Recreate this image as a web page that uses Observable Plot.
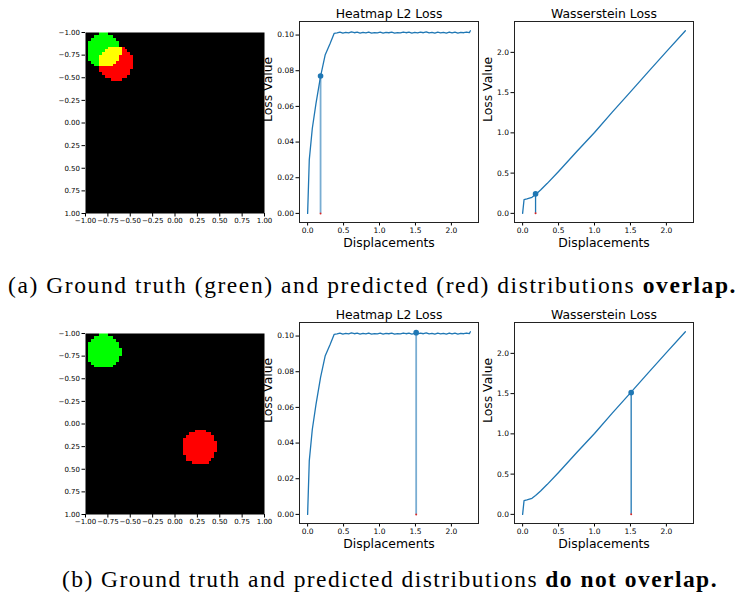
<!DOCTYPE html>
<html><head><meta charset="utf-8">
<script src="https://cdn.jsdelivr.net/npm/d3@7"></script>
<script src="https://cdn.jsdelivr.net/npm/@observablehq/plot@0.6"></script>
<style>
html,body{margin:0;padding:0;background:#fff;}
#fig{position:relative;width:743px;height:597px;overflow:hidden;background:#fff;}
#fig svg{position:absolute;overflow:visible;}
</style></head><body><div id="fig"></div>
<script>
// ---------- data ----------
const gridSize = 64;
const circleRadius = 0.19;
const gtCenter = [-0.79, -0.80];
const predCenters = [[-0.66, -0.665], [0.275, 0.26]];

const l2Disp = [0, 0.023, 0.065, 0.116, 0.18, 0.245, 0.31, 0.37,
  0.41, 0.45, 0.49, 0.53, 0.57, 0.61, 0.65, 0.69, 0.73, 0.77,
  0.81, 0.85, 0.89, 0.93, 0.97, 1.01, 1.05, 1.09, 1.13, 1.17,
  1.21, 1.25, 1.29, 1.33, 1.37, 1.41, 1.45, 1.49, 1.53, 1.57,
  1.61, 1.65, 1.69, 1.73, 1.77, 1.81, 1.85, 1.89, 1.93, 1.97,
  2.01, 2.05, 2.09, 2.13, 2.17, 2.21, 2.25, 2.264];
const l2Loss = [0, 0.030, 0.0476, 0.0616, 0.0768, 0.089, 0.095, 0.1010,
  0.1012, 0.1016, 0.1011, 0.1015, 0.1012, 0.1018, 0.1013, 0.1016, 0.1011, 0.1015,
  0.1012, 0.1017, 0.1011, 0.1014, 0.1012, 0.1016, 0.1011, 0.1015, 0.1013, 0.1016,
  0.1011, 0.1014, 0.1012, 0.1017, 0.1013, 0.1016, 0.1011, 0.1015, 0.1012, 0.1016,
  0.1013, 0.1018, 0.1012, 0.1015, 0.1011, 0.1016, 0.1012, 0.1015, 0.1011, 0.1017,
  0.1012, 0.1016, 0.1011, 0.1015, 0.1013, 0.1017, 0.1014, 0.1024];

const wDisp = [0, 0.02, 0.06, 0.13, 0.18, 0.25, 0.34, 0.5, 0.75, 1.0, 1.25, 1.5, 1.75, 2.0, 2.264];
const wLoss = [0, 0.172, 0.18, 0.20, 0.235, 0.29, 0.37, 0.52, 0.765, 1.005, 1.26, 1.51, 1.76, 2.01, 2.268];

const markedDisp = [0.18, 1.51];
const markedL2 = [0.0770, 0.1019];
const markedW = [0.242, 1.512];

const heatTicks = [-1, -0.75, -0.5, -0.25, 0, 0.25, 0.5, 0.75, 1];
const l2Ticks = [0, 0.02, 0.04, 0.06, 0.08, 0.10];
const dispTicks = [0, 0.5, 1, 1.5, 2];
const wTicks = [0, 0.5, 1, 1.5, 2];
const titles = ["Heatmap L2 Loss", "Wasserstein Loss"];
const xLabel = "Displacements";
const yLabel = "Loss Value";
const captionParts = [
  ["(a) Ground truth (green) and predicted (red) distributions ", "overlap."],
  ["(b) Ground truth and predicted distributions ", "do not overlap."]
];

// ---------- layout ----------
const fig = document.getElementById("fig");
const blue = "#1f77b4";
const rowOffset = [0, 300.5];

function place(svg, left, top) {
  svg.style.left = left + "px";
  svg.style.top = top + "px";
  fig.appendChild(svg);
}

function heatmap(pred, top) {
  const r2 = circleRadius * circleRadius;
  const inside = (x, y, c) => (x - c[0]) ** 2 + (y - c[1]) ** 2 <= r2;
  const svg = Plot.plot({
    width: 229, height: 208,
    marginLeft: 45, marginRight: 5, marginTop: 10, marginBottom: 17,
    style: {fontFamily: "DejaVu Sans", fontSize: "7px", background: "transparent", color: "#000"},
    x: {domain: [-1, 1], ticks: heatTicks, tickFormat: d3.format(".2f"), label: null, tickSize: 3.5, tickPadding: 1.5},
    y: {domain: [-1, 1], reverse: true, ticks: heatTicks, tickFormat: d3.format(".2f"), label: null, tickSize: 3.5, tickPadding: 2},
    color: {type: "ordinal", domain: ["none", "gt", "pred", "both"], range: ["#000000", "#00ff00", "#ff0000", "#ffff00"]},
    marks: [
      Plot.raster({
        x1: -1, x2: 1, y1: -1, y2: 1, width: gridSize, height: gridSize,
        imageRendering: "pixelated",
        fill: (x, y) => {
          const g = inside(x, y, gtCenter), p = inside(x, y, pred);
          return g && p ? "both" : g ? "gt" : p ? "pred" : "none";
        }
      })
    ]
  });
  place(svg, 40, 22 + top);
}

function lossPlot({disp, loss, yDomain, yTicks, yFmt, mx, my, title, left, top, yLabelDx, stem}) {
  const pts = disp.map((d, i) => ({x: d, y: loss[i]})).filter(d => d.y !== undefined);
  const mark = [{x: mx, y: my}];
  const svg = Plot.plot({
    width: 231, height: 252,
    marginLeft: 44, marginRight: 8, marginTop: 21, marginBottom: 30,
    style: {fontFamily: "DejaVu Sans", fontSize: "7.5px", background: "transparent", color: "#000"},
    x: {domain: [-0.113, 2.377], ticks: dispTicks, tickFormat: d3.format(".1f"), label: null, tickSize: 3.5, tickPadding: 2},
    y: {domain: yDomain, ticks: yTicks, tickFormat: d3.format(yFmt), label: null, tickSize: 3.5, tickPadding: 2},
    marks: [
      Plot.frame({stroke: "#222", strokeWidth: 1}),
      Plot.line(pts, {x: "x", y: "y", stroke: blue, strokeWidth: 1.3}),
      Plot.ruleX(mark, {x: "x", y1: 0, y2: "y", stroke: blue, strokeWidth: stem.w, strokeOpacity: stem.o}),
      Plot.dot(mark, {x: "x", y: "y", r: 2.8, fill: blue}),
      Plot.dot(mark, {x: "x", y: () => 0, r: 1, fill: "#d62728"}),
      Plot.text([title], {text: d => d, frameAnchor: "top", lineAnchor: "bottom", dy: -4, fontSize: 12.4}),
      Plot.text([xLabel], {text: d => d, frameAnchor: "bottom", lineAnchor: "top", dy: 16, fontSize: 12.4}),
      Plot.text([yLabel], {text: d => d, frameAnchor: "left", rotate: -90, dx: yLabelDx, fontSize: 12.4})
    ]
  });
  place(svg, left, top);
}

for (let k = 0; k < 2; k++) {
  const top = rowOffset[k];
  heatmap(predCenters[k], top);
  lossPlot({disp: l2Disp, loss: l2Loss, yDomain: [-0.0051, 0.1076], yTicks: l2Ticks, yFmt: ".2f",
    mx: markedDisp[k], my: markedL2[k], title: titles[0], left: 255, top, yLabelDx: -31, stem: {w: 1.8, o: 0.6}});
  lossPlot({disp: wDisp, loss: wLoss, yDomain: [-0.1135, 2.3835], yTicks: wTicks, yFmt: ".1f",
    mx: markedDisp[k], my: markedW[k], title: titles[1], left: 470, top, yLabelDx: -26.5, stem: {w: 1.3, o: 1}});
}

// ---------- captions ----------
const capSvg = d3.create("svg").attr("width", 743).attr("height", 597)
  .style("left", "0px").style("top", "0px").style("pointer-events", "none");
fig.appendChild(capSvg.node());
const capSpec = [{x0: 8, x1: 737, y: 293}, {x0: 62, x1: 718, y: 587}];
captionParts.forEach((parts, i) => {
  const s = capSpec[i];
  const t = capSvg.append("text").attr("x", s.x0).attr("y", s.y)
    .attr("font-family", "Liberation Serif").attr("font-size", 23.5).attr("fill", "#000");
  t.append("tspan").text(parts[0]);
  t.append("tspan").attr("font-weight", "bold").text(parts[1]);
  const w = t.node().getComputedTextLength();
  const n = (parts[0] + parts[1]).length;
  t.attr("letter-spacing", ((s.x1 - s.x0) - w) / n);
});
</script></body></html>
